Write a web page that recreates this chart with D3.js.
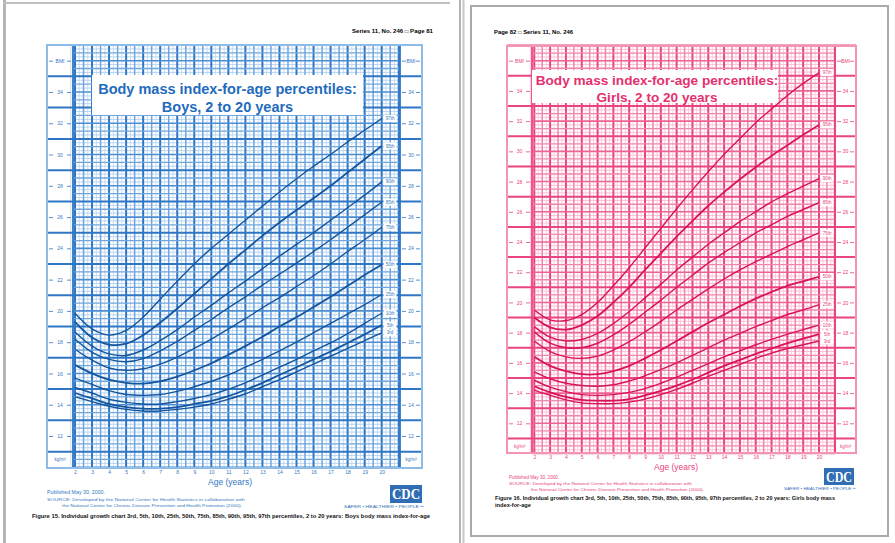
<!DOCTYPE html>
<html>
<head>
<meta charset="utf-8">
<script src="https://cdn.jsdelivr.net/npm/d3@7"></script>
<style>
	body { margin: 0; background: #fff; }
	svg { display: block; font-family: 'Liberation Sans', Arial, sans-serif; }
</style>
</head>
<body>
<div id="chart"></div>
<script>

// ages (years) at which the percentile curves are read
const ages = [2, 3, 4, 5, 6, 7, 8, 9, 10, 11, 12, 13, 14, 15, 16, 17, 18, 19, 20];
const percentiles = ['3rd', '5th', '10th', '25th', '50th', '75th', '85th', '90th', '95th', '97th'];
const bmiTicks = [12, 14, 16, 18, 20, 22, 24, 26, 28, 30, 32, 34, 36];

// boys BMI (kg/m2)
const boys3  = [14.5, 14.2, 13.9, 13.7, 13.6, 13.6, 13.7, 13.85, 14.05, 14.35, 14.7, 15.15, 15.6, 16.1, 16.6, 17.1, 17.6, 18.1, 18.6];
const boys5  = [14.75, 14.4, 14.05, 13.85, 13.75, 13.75, 13.85, 14.05, 14.25, 14.55, 14.95, 15.4, 15.9, 16.4, 16.9, 17.4, 17.95, 18.5, 19.1];
const boys10 = [15.1, 14.75, 14.35, 14.15, 14.05, 14.05, 14.2, 14.4, 14.65, 15.0, 15.4, 15.9, 16.4, 16.9, 17.45, 17.95, 18.55, 19.2, 19.85];
const boys25 = [15.7, 15.3, 14.9, 14.65, 14.6, 14.65, 14.85, 15.15, 15.5, 15.9, 16.4, 16.9, 17.45, 18.0, 18.6, 19.2, 19.8, 20.4, 21.05];
const boys50 = [16.55, 16.0, 15.6, 15.4, 15.35, 15.5, 15.8, 16.2, 16.65, 17.2, 17.75, 18.35, 19.0, 19.6, 20.25, 20.9, 21.6, 22.3, 22.95];
const boys75 = [17.55, 16.85, 16.35, 16.2, 16.3, 16.6, 17.05, 17.6, 18.2, 18.85, 19.5, 20.2, 20.85, 21.55, 22.25, 23.0, 23.8, 24.55, 25.35];
const boys85 = [18.2, 17.35, 16.9, 16.75, 16.95, 17.45, 18.05, 18.75, 19.45, 20.2, 20.9, 21.65, 22.35, 23.05, 23.8, 24.55, 25.35, 26.15, 26.95];
const boys90 = [18.65, 17.75, 17.25, 17.15, 17.5, 18.1, 18.8, 19.6, 20.35, 21.15, 21.9, 22.7, 23.5, 24.25, 25.0, 25.8, 26.6, 27.4, 28.25];
const boys95 = [19.3, 18.3, 17.85, 17.9, 18.45, 19.25, 20.15, 21.1, 22.05, 23.0, 23.9, 24.8, 25.65, 26.45, 27.2, 28.0, 28.85, 29.7, 30.55];
const boys97 = [19.85, 18.85, 18.45, 18.75, 19.6, 20.75, 21.9, 23.0, 24.0, 24.9, 25.8, 26.7, 27.6, 28.45, 29.25, 30.0, 30.8, 31.55, 32.3];

// girls BMI (kg/m2)
const girls3  = [14.2, 13.85, 13.55, 13.35, 13.3, 13.3, 13.4, 13.6, 13.9, 14.25, 14.65, 15.1, 15.5, 15.9, 16.3, 16.65, 16.95, 17.2, 17.45];
const girls5  = [14.45, 14.05, 13.75, 13.55, 13.5, 13.5, 13.6, 13.85, 14.15, 14.5, 14.9, 15.35, 15.8, 16.2, 16.6, 16.95, 17.3, 17.6, 17.9];
const girls10 = [14.85, 14.4, 14.1, 13.9, 13.85, 13.9, 14.05, 14.3, 14.65, 15.05, 15.5, 15.95, 16.4, 16.8, 17.2, 17.55, 17.9, 18.2, 18.5];
const girls25 = [15.4, 14.95, 14.65, 14.5, 14.45, 14.55, 14.8, 15.15, 15.55, 16.0, 16.5, 17.0, 17.5, 17.95, 18.4, 18.8, 19.2, 19.5, 19.85];
const girls50 = [16.4, 15.8, 15.45, 15.25, 15.25, 15.45, 15.8, 16.3, 16.85, 17.45, 18.05, 18.65, 19.2, 19.75, 20.25, 20.7, 21.1, 21.4, 21.7];
const girls75 = [17.45, 16.75, 16.4, 16.3, 16.45, 16.85, 17.4, 18.05, 18.75, 19.5, 20.2, 20.9, 21.55, 22.15, 22.7, 23.2, 23.7, 24.15, 24.6];
const girls85 = [18.05, 17.3, 17.0, 17.0, 17.3, 17.85, 18.55, 19.35, 20.15, 21.0, 21.8, 22.6, 23.3, 23.95, 24.6, 25.15, 25.7, 26.15, 26.6];
const girls90 = [18.4, 17.7, 17.45, 17.55, 17.95, 18.6, 19.4, 20.3, 21.2, 22.15, 23.0, 23.85, 24.6, 25.35, 26.0, 26.65, 27.2, 27.7, 28.2];
const girls95 = [19.0, 18.35, 18.2, 18.5, 19.1, 20.0, 21.0, 22.15, 23.25, 24.35, 25.4, 26.4, 27.3, 28.15, 28.95, 29.7, 30.4, 31.1, 31.75];
const girls97 = [19.5, 18.85, 18.8, 19.2, 20.0, 21.1, 22.3, 23.6, 24.9, 26.2, 27.45, 28.65, 29.8, 30.85, 31.9, 32.8, 33.7, 34.5, 35.2];

const boysSeries = [boys3, boys5, boys10, boys25, boys50, boys75, boys85, boys90, boys95, boys97];
const girlsSeries = [girls3, girls5, girls10, girls25, girls50, girls75, girls85, girls90, girls95, girls97];


function GrowthChart(options) {
	this.svg = options.svg;
	this.series = options.series.map(function(v, i) {
		return { label: percentiles[i], values: v };
	});
	this.frame = options.frame;
	this.grid = options.grid;
	this.xRange = options.xRange;
	this.yRange = options.yRange;
	this.col = options.colors;
	this.opt = options;

	this.draw();
}

GrowthChart.prototype.draw = function() {
	this.g = this.svg.append('g');
	this.createScales();
	this.createGrid();
	this.createAxes();
	this.createTitle();
	this.createLines();
	this.createLabels();
	this.createFooter();
}

GrowthChart.prototype.createScales = function() {
	this.xScale = d3.scaleLinear()
		.domain([2, 20])
		.range(this.xRange);

	this.yScale = d3.scaleLinear()
		.domain([12, 36])
		.range(this.yRange);
}

GrowthChart.prototype.createGrid = function() {
	let that = this;
	let f = this.frame, gr = this.grid;
	let g = this.g.append('g');

	g.append('rect')
		.attr('x', f.x0).attr('y', f.y0)
		.attr('width', f.x1 - f.x0).attr('height', f.y1 - f.y0)
		.attr('fill', '#fff');

	// fine lines (every quarter)
	g.selectAll('.fineh')
		.data(d3.range(10, 37.01, 0.25).filter(d => d % 0.5 != 0))
		.enter().append('line')
			.attr('x1', gr.x0).attr('x2', gr.x1)
			.attr('y1', d => that.yScale(d)).attr('y2', d => that.yScale(d))
			.attr('stroke', this.col.fine).attr('stroke-width', 1);

	g.selectAll('.finev')
		.data(d3.range(1.75, 21.01, 0.25).filter(d => d % 0.5 != 0))
		.enter().append('line')
			.attr('x1', d => that.xScale(d)).attr('x2', d => that.xScale(d))
			.attr('y1', f.y0).attr('y2', f.y1)
			.attr('stroke', this.col.fine).attr('stroke-width', 0.8);

	// vertical lines, every half year
	g.selectAll('.v')
		.data(d3.range(2, 21.01, 0.5))
		.enter().append('line')
			.attr('x1', d => that.xScale(d)).attr('x2', d => that.xScale(d))
			.attr('y1', f.y0).attr('y2', f.y1)
			.attr('stroke', d => (d % 1 == 0) ? that.col.major : that.col.minor)
			.attr('stroke-width', d => (d % 1 == 0) ? 2 : 1.5);

	// horizontal lines, every half unit
	g.selectAll('.h')
		.data(d3.range(10, 37.01, 0.5))
		.enter().append('line')
			.attr('x1', d => (d % 2 == 1) ? f.x0 : gr.x0)
			.attr('x2', d => (d % 2 == 1) ? f.x1 : gr.x1)
			.attr('y1', d => that.yScale(d)).attr('y2', d => that.yScale(d))
			.attr('stroke', function(d) {
				if (d % 2 == 1) return that.col.major;
				return (d % 1 == 0) ? that.col.mid : that.col.minor;
			})
			.attr('stroke-width', d => (d % 2 == 1) ? 2 : (d % 1 == 0 ? 1.6 : 1.3));

	// side columns borders
	[gr.x0, gr.x1].forEach(function(x) {
		g.append('line')
			.attr('x1', x).attr('x2', x)
			.attr('y1', f.y0).attr('y2', f.y1)
			.attr('stroke', that.col.major).attr('stroke-width', 1.8);
	});

	g.append('rect')
		.attr('x', f.x0).attr('y', f.y0)
		.attr('width', f.x1 - f.x0).attr('height', f.y1 - f.y0)
		.attr('fill', 'none')
		.attr('stroke', this.col.frame).attr('stroke-width', 2);
}

GrowthChart.prototype.createAxes = function() {
	let that = this;
	let f = this.frame, gr = this.grid;

	[[f.x0, gr.x0], [gr.x1, f.x1]].forEach(function(side) {
		let cx = (side[0] + side[1]) / 2;
		let axis = d3.axisLeft(that.yScale)
			.tickValues(bmiTicks)
			.tickSize(0)
			.tickPadding(0)
			.tickFormat(d => d == 36 ? 'BMI' : d);

		let ax = that.g.append('g')
			.attr('transform', `translate(${cx}, 0)`)
			.call(axis);
		ax.select('.domain').remove();
		ax.selectAll('text')
			.attr('text-anchor', 'middle')
			.attr('fill', that.col.text)
			.style('font-size', '5px');

		// little dashes each side of the label
		ax.selectAll('.tick').each(function() {
			let t = d3.select(this);
			[[side[0] - cx + 2, side[0] - cx + 6], [side[1] - cx - 6, side[1] - cx - 2]].forEach(function(d) {
				t.append('line')
					.attr('x1', d[0]).attr('x2', d[1])
					.attr('stroke', that.col.major).attr('stroke-width', 0.8);
			});
		});

		that.g.append('text')
			.attr('x', cx)
			.attr('y', that.yScale(10.5) + 2)
			.attr('text-anchor', 'middle')
			.attr('fill', that.col.text)
			.style('font-size', '4.5px')
			.text('kg/m²');
	});

	let xAxis = d3.axisBottom(this.xScale)
		.tickValues(ages)
		.tickSize(0)
		.tickPadding(2)
		.tickFormat(d3.format('d'));

	let xa = this.g.append('g')
		.attr('transform', `translate(0, ${f.y1})`)
		.call(xAxis);
	xa.select('.domain').remove();
	xa.selectAll('text')
		.attr('fill', this.col.text)
		.style('font-size', '5px');

	this.g.append('text')
		.attr('x', this.opt.ageLabel[0])
		.attr('y', this.opt.ageLabel[1])
		.attr('text-anchor', 'middle')
		.attr('fill', this.col.text)
		.style('font-size', '8.5px')
		.text('Age (years)');
}

GrowthChart.prototype.createTitle = function() {
	let t = this.opt.title;

	this.g.append('rect')
		.attr('x', t.box[0]).attr('y', t.box[1])
		.attr('width', t.box[2] - t.box[0]).attr('height', t.box[3] - t.box[1])
		.attr('fill', '#fff');

	let that = this;
	t.lines.forEach(function(line, i) {
		that.g.append('text')
			.attr('x', t.cx)
			.attr('y', t.y[i])
			.attr('text-anchor', 'middle')
			.attr('fill', that.col.title)
			.style('font-size', t.size + 'px')
			.style('font-weight', 'bold')
			.text(line);
	});
}

GrowthChart.prototype.createLines = function() {
	let that = this;

	let line = d3.line()
		.x((d, i) => that.xScale(ages[i]))
		.y(d => that.yScale(d))
		.curve(d3.curveCatmullRom.alpha(0.5));

	this.g.selectAll('.curve')
		.data(this.series)
		.enter().append('path')
			.attr('d', d => line(d.values))
			.attr('fill', 'none')
			.attr('stroke', this.col.curve)
			.attr('stroke-width', d => ['5th', '50th', '95th'].includes(d.label) ? 1.8 : 1.4);
}

GrowthChart.prototype.createLabels = function() {
	let that = this;

	// end positions, pushed apart a little so the boxes do not overlap
	let pos = this.series.map(d => that.yScale(d.values[d.values.length - 1]));
	for (let i = 1; i < pos.length; i++) {
		if (pos[i - 1] - pos[i] < 7) pos[i] = pos[i - 1] - 7;
	}

	let lx = this.opt.labelX;

	let lab = this.g.selectAll('.plabel')
		.data(this.series)
		.enter().append('g')
			.attr('transform', (d, i) => `translate(${lx}, ${pos[i]})`);

	lab.append('rect')
		.attr('x', -6.5).attr('y', -3.5)
		.attr('width', 13).attr('height', 7)
		.attr('fill', '#fff');

	lab.append('text')
		.attr('text-anchor', 'middle')
		.attr('dy', '0.35em')
		.attr('fill', this.col.text)
		.style('font-size', '4.5px')
		.text(d => d.label);
}

GrowthChart.prototype.createFooter = function() {
	let that = this;
	let ft = this.opt.footer;

	ft.texts.forEach(function(d) {
		that.g.append('text')
			.attr('x', d.x).attr('y', d.y)
			.attr('fill', d.color || that.col.text)
			.attr('textLength', d.len)
			.attr('lengthAdjust', 'spacingAndGlyphs')
			.style('font-size', (d.size || 4.5) + 'px')
			.style('font-weight', d.bold ? 'bold' : 'normal')
			.text(d.text);
	});

	// CDC logo
	let lg = ft.logo;
	this.g.append('rect')
		.attr('x', lg[0]).attr('y', lg[1])
		.attr('width', lg[2]).attr('height', lg[3])
		.attr('fill', '#2f6db5');
	this.g.append('text')
		.attr('x', lg[0] + lg[2] / 2).attr('y', lg[1] + lg[3] * 0.8)
		.attr('text-anchor', 'middle')
		.attr('fill', '#fff')
		.attr('textLength', lg[2] - 4)
		.attr('lengthAdjust', 'spacingAndGlyphs')
		.style('font-size', (lg[3] * 0.85) + 'px')
		.style('font-weight', 'bold')
		.style('font-family', "'Liberation Serif', serif")
		.text('CDC');
	this.g.append('text')
		.attr('x', lg[0] + lg[2] + 2).attr('y', lg[1] + lg[3] + 5)
		.attr('text-anchor', 'end')
		.attr('fill', '#2f6db5')
		.attr('textLength', ft.saferLen)
		.attr('lengthAdjust', 'spacingAndGlyphs')
		.style('font-size', '3.5px')
		.text('SAFER • HEALTHIER • PEOPLE™');
}


let svg = d3.select('#chart')
	.append('svg')
		.attr('width', 895)
		.attr('height', 543);

// page edges
svg.append('rect').attr('x', 3).attr('y', 0).attr('width', 3).attr('height', 543).attr('fill', '#b4b4b4');
svg.append('rect').attr('x', 3).attr('y', 2).attr('width', 447).attr('height', 2).attr('fill', '#c0c0c0');
svg.append('rect').attr('x', 459).attr('y', 0).attr('width', 2).attr('height', 543).attr('fill', '#b4b4b4');
svg.append('rect').attr('x', 462.5).attr('y', 0).attr('width', 2).attr('height', 543).attr('fill', '#c8c8c8');
svg.append('rect')
	.attr('x', 471).attr('y', 6).attr('width', 417).attr('height', 530)
	.attr('fill', 'none').attr('stroke', '#aaaaaa').attr('stroke-width', 2);

// page headers
svg.append('text')
	.attr('x', 352).attr('y', 33)
	.attr('textLength', 81).attr('lengthAdjust', 'spacingAndGlyphs')
	.style('font-size', '4.5px').style('font-weight', 'bold')
	.text('Series 11, No. 246 \u25A1 Page 81');
svg.append('text')
	.attr('x', 494).attr('y', 34)
	.attr('textLength', 79).attr('lengthAdjust', 'spacingAndGlyphs')
	.style('font-size', '4.5px').style('font-weight', 'bold')
	.text('Page 82 \u25A1 Series 11, No. 246');

const srcA = 'SOURCE: Developed by the National Center for Health Statistics in collaboration with';
const srcB = 'the National Center for Chronic Disease Prevention and Health Promotion (2000).';

new GrowthChart({
	svg: svg,
	series: boysSeries,
	frame: { x0: 47, x1: 422, y0: 45, y1: 468 },
	grid: { x0: 73, x1: 400 },
	xRange: [75, 381.7],
	yRange: [436, 60.7],
	labelX: 390,
	ageLabel: [230, 485],
	colors: {
		fine: '#bcd6f1', minor: '#6fa6de', mid: '#4d8ed3', major: '#2f76c4',
		frame: '#8ebce9', curve: '#13569f', text: '#3478c4', title: '#1f6bbd'
	},
	title: {
		box: [92, 75, 363, 115], cx: 227.5, y: [94, 112], size: 14.5,
		lines: ['Body mass index-for-age percentiles:', 'Boys, 2 to 20 years']
	},
	footer: {
		texts: [
			{ x: 47, y: 494, len: 58, size: 4.5, text: 'Published May 30, 2000.' },
			{ x: 47, y: 501, len: 198, size: 3.8, text: srcA },
			{ x: 62, y: 507, len: 180, size: 3.8, text: srcB },
			{ x: 32, y: 518, len: 398, size: 5, bold: true, color: '#111',
				text: 'Figure 15. Individual growth chart 3rd, 5th, 10th, 25th, 50th, 75th, 85th, 90th, 95th, 97th percentiles, 2 to 20 years: Boys body mass index-for-age' }
		],
		logo: [390, 485, 32, 18],
		saferLen: 80
	}
});

new GrowthChart({
	svg: svg,
	series: girlsSeries,
	frame: { x0: 507, x1: 856, y0: 46, y1: 453 },
	grid: { x0: 532, x1: 835 },
	xRange: [534.3, 819],
	yRange: [423.3, 60.7],
	labelX: 827,
	ageLabel: [676, 470],
	colors: {
		fine: '#f9c4d7', minor: '#f285ab', mid: '#ee6394', major: '#ea4482',
		frame: '#f393b6', curve: '#d81459', text: '#e8447d', title: '#e5306f'
	},
	title: {
		box: [532, 70, 778, 103], cx: 657, y: [85, 102], size: 13.6,
		lines: ['Body mass index-for-age percentiles:', 'Girls, 2 to 20 years']
	},
	footer: {
		texts: [
			{ x: 509, y: 479, len: 50, size: 4.5, text: 'Published May 30, 2000.' },
			{ x: 509, y: 485, len: 183, size: 3.8, text: srcA },
			{ x: 531, y: 491, len: 173, size: 3.8, text: srcB },
			{ x: 495, y: 500, len: 340, size: 5, bold: true, color: '#111',
				text: 'Figure 16. Individual growth chart 3rd, 5th, 10th, 25th, 50th, 75th, 85th, 90th, 95th, 97th percentiles, 2 to 20 years: Girls body mass' },
			{ x: 495, y: 507, len: 36, size: 5, bold: true, color: '#111', text: 'index-for-age' }
		],
		logo: [824, 468, 30, 17],
		saferLen: 72
	}
});

</script>
</body>
</html>
